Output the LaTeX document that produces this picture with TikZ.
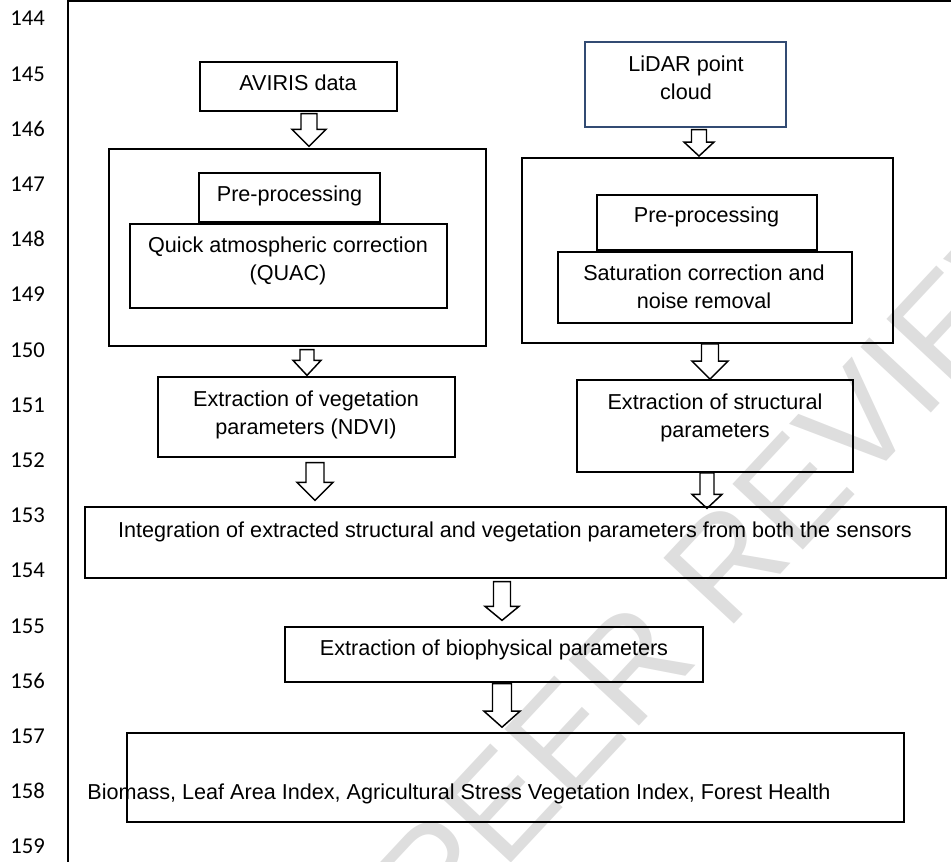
\documentclass[tikz,border=0pt]{standalone}
\usepackage{fontspec}
\setmainfont{Liberation Sans}
\newfontfamily\numfont{Carlito}
\usetikzlibrary{fit,calc}
\definecolor{lidarblue}{RGB}{50,75,115}
\definecolor{wmgray}{RGB}{222,222,222}
\tikzset{
  box/.style={draw=black, line width=0.95pt, inner sep=0pt},
  txt/.style={font=\fontsize{16.2}{21}\selectfont, inner sep=0pt, anchor=base},
  lnum/.style={font=\numfont\fontsize{17}{20}\selectfont, inner sep=0pt, anchor=base west},
  blk/.style={draw=black, line width=1.1pt, line join=miter},
  wm/.style={text=wmgray, font=\fontsize{105}{110}\selectfont, inner sep=0pt, anchor=base west},
  frame/.style={draw=black, line width=1.1pt},
}
\newcommand\twol[2]{\begin{tabular}[t]{@{}c@{}}#1\\#2\end{tabular}}
% block arrow: src, dst, x centre, shaft half, head half, head length, top gap, tip gap (px)
\newcommand\barrow[8]{%
  \draw[blk] let \p1=(#1.south), \p2=(#2.north) in
    ({(#3-#4)*0.75pt},{\y1-#7*0.75pt}) -- ({(#3+#4)*0.75pt},{\y1-#7*0.75pt})
    -- ({(#3+#4)*0.75pt},{\y2+(#8+#6)*0.75pt}) -- ({(#3+#5)*0.75pt},{\y2+(#8+#6)*0.75pt})
    -- ({#3*0.75pt},{\y2+#8*0.75pt})
    -- ({(#3-#5)*0.75pt},{\y2+(#8+#6)*0.75pt}) -- ({(#3-#4)*0.75pt},{\y2+(#8+#6)*0.75pt}) -- cycle;}
\begin{document}
\begin{tikzpicture}[x=0.75pt,y=-0.75pt]
\useasboundingbox (0,0) rectangle (951,862);
% watermark
\begin{scope}
\clip (0,0) rectangle (951,862);
\node[wm, rotate=47] (wm) at (440,940) {PEER REVIEW};
\end{scope}
% frame and line numbers
\coordinate (ftop) at (68,1);
\coordinate (fbot) at (68,862);
\coordinate (fright) at (951,1);
\draw[frame] (fbot) -- (ftop) -- (fright);
\foreach \i in {0,...,15}{
  \pgfmathtruncatemacro\lnn{144+\i}
  \node[lnum] (ln\i) at (10,{26+55.2*\i}) {\lnn};
}
% left column
\node[box, fit={(200,62) (397,111)}] (aviris) {};
\node[txt] (avirist) at (298,91) {AVIRIS data};
\node[box, line width=0.8pt, fit={(109,149) (486,346)}] (lout) {};
\node[box, fit={(199,173) (380,222)}] (lpre) {};
\node[txt] (lpret) at (289.5,202) {Pre-processing};
\node[box, line width=1.2pt, fit={(130,224) (447,308)}] (quac) {};
\node[txt] (quact) at (288,253) {\twol{Quick atmospheric correction}{(QUAC)}};
\node[box, fit={(158,377) (455,457)}] (veg) {};
\node[txt] (vegt) at (306,407) {\twol{Extraction of vegetation}{parameters (NDVI)}};
% right column
\node[box, draw=lidarblue, fit={(585,42) (786,127)}] (lidar) {};
\node[txt] (lidart) at (686,72) {\twol{LiDAR point}{cloud}};
\node[box, line width=1.4pt, fit={(522,158) (893,343)}] (rout) {};
\node[box, fit={(597,195) (817,250)}] (rpre) {};
\node[txt] (rpret) at (706.5,223) {Pre-processing};
\node[box, line width=1.2pt, fit={(558,252) (852,323)}] (sat) {};
\node[txt] (satt) at (704,281) {\twol{Saturation correction and}{noise removal}};
\node[box, line width=1.2pt, fit={(577,380) (853,472)}] (str) {};
\node[txt] (strt) at (715,410) {\twol{Extraction of structural}{parameters}};
% lower part
\node[box, fit={(85,507) (946,578)}] (integ) {};
\node[txt] (integt) at (515,538) {Integration of extracted structural and vegetation parameters from both the sensors};
\node[box, fit={(285,627) (703,682)}] (bio) {};
\node[txt] (biot) at (494,656) {Extraction of biophysical parameters};
\node[box, line width=1.2pt, fit={(127,733) (904,822)}] (fin) {};
\node[txt] (fint) at (459,800) {Biomass, Leaf Area Index, Agricultural Stress Vegetation Index, Forest Health};
% block arrows
\barrow{aviris}{lout}{309}{8}{17}{17}{2}{2}
\barrow{lout}{veg}{307}{7}{14}{15}{3}{1}
\barrow{veg}{integ}{315}{9}{18}{18}{5}{6}
\barrow{lidar}{rout}{699}{7.5}{15}{14}{2}{1}
\barrow{rout}{str}{710}{8.5}{18}{18}{0}{0}
\barrow{str}{integ}{707}{7}{15}{14}{0}{-2}
\barrow{integ}{bio}{502}{8.5}{17}{14}{3}{6}
\barrow{bio}{fin}{502}{9.5}{18}{16}{1}{5}
\end{tikzpicture}
\end{document}
